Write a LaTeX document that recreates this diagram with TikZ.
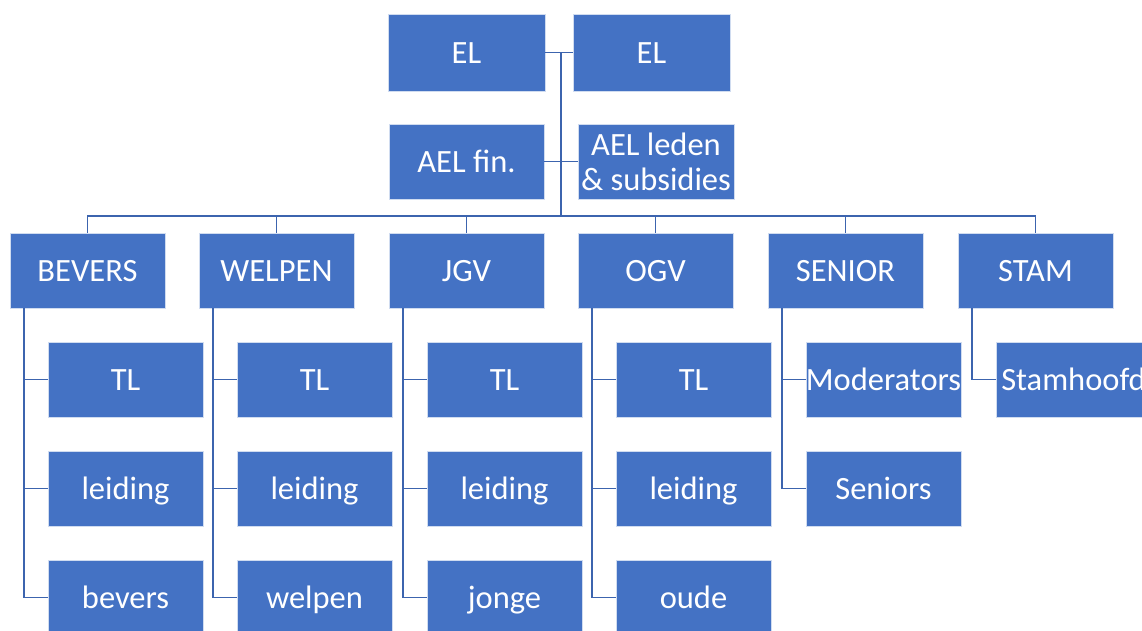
\documentclass[tikz,border=0pt]{standalone}
\usepackage{fontspec}
\setmainfont{Carlito}
\definecolor{boxblue}{HTML}{4472C4}
\definecolor{lineblue}{HTML}{3C64AE}
\begin{document}
\begin{tikzpicture}[x=1pt,y=-1pt,
  orgbox/.style={fill=boxblue,draw=white!75!boxblue,line width=0.6pt,text=white,
    minimum width=155pt,minimum height=75pt,inner sep=0pt,align=center,
    font=\fontsize{32.5}{35}\selectfont,text height=27pt,text depth=6pt},
  twoline/.style={orgbox,text height=,text depth=},
  conn/.style={draw=lineblue,line width=1.3pt}]
\useasboundingbox (0,0) rectangle (1142,630);
\clip (0,0) rectangle (1142,630);
% top
\node[orgbox,minimum width=157pt,minimum height=77pt] (el1) at (466.5,52.5) {EL};
\node[orgbox,minimum width=157pt,minimum height=77pt] (el2) at (651.5,52.5) {EL};
\node[orgbox] (afin) at (466.5,161.5) {AEL fin.};
\node[twoline,minimum width=156pt] (aled) at (656,161.5) {AEL leden\\\& subsidies};
\coordinate (trunk) at (561,52.5);
\coordinate (bus) at (561,216);
\draw[conn] (el1.east) -- (el2.west);
\draw[conn] (afin.east) -- (aled.west);
\draw[conn] (trunk) -- (bus);
% level 2
\foreach \n/\x/\t in {b1/87.5/BEVERS,b2/276.5/WELPEN,b3/466.5/JGV,b4/655.5/OGV,b5/845.5/SENIOR,b6/1035.5/STAM}{
  \node[orgbox] (\n) at (\x,270.5) {\t};
  \draw[conn] (bus) -| (\n.north);
}
% children
\foreach \p/\t/\u/\v in {b1/TL/leiding/bevers,b2/TL/leiding/welpen,b3/TL/leiding/jonge,b4/TL/leiding/oude}{
  \node[orgbox] (\p a) at ([xshift=38pt,yshift=-109pt]\p.center) {\t};
  \node[orgbox] (\p b) at ([xshift=38pt,yshift=-218pt]\p.center) {\u};
  \node[orgbox] (\p c) at ([xshift=38pt,yshift=-327pt]\p.center) {\v};
  \draw[conn] ([xshift=-63.5pt]\p.south) |- (\p c.west);
  \draw[conn] ([xshift=-63.5pt]\p a.west -| \p.south) -- (\p a.west);
  \draw[conn] ([xshift=-63.5pt]\p b.west -| \p.south) -- (\p b.west);
}
\node[orgbox] (b5a) at ([xshift=38pt,yshift=-109pt]b5.center) {Moderators};
\node[orgbox] (b5b) at ([xshift=38pt,yshift=-218pt]b5.center) {Seniors};
\draw[conn] ([xshift=-63.5pt]b5.south) |- (b5b.west);
\draw[conn] ([xshift=-63.5pt]b5a.west -| b5.south) -- (b5a.west);
\node[orgbox] (b6a) at ([xshift=38pt,yshift=-109pt]b6.center) {Stamhoofd};
\draw[conn] ([xshift=-63.5pt]b6.south) |- (b6a.west);
\end{tikzpicture}
\end{document}
